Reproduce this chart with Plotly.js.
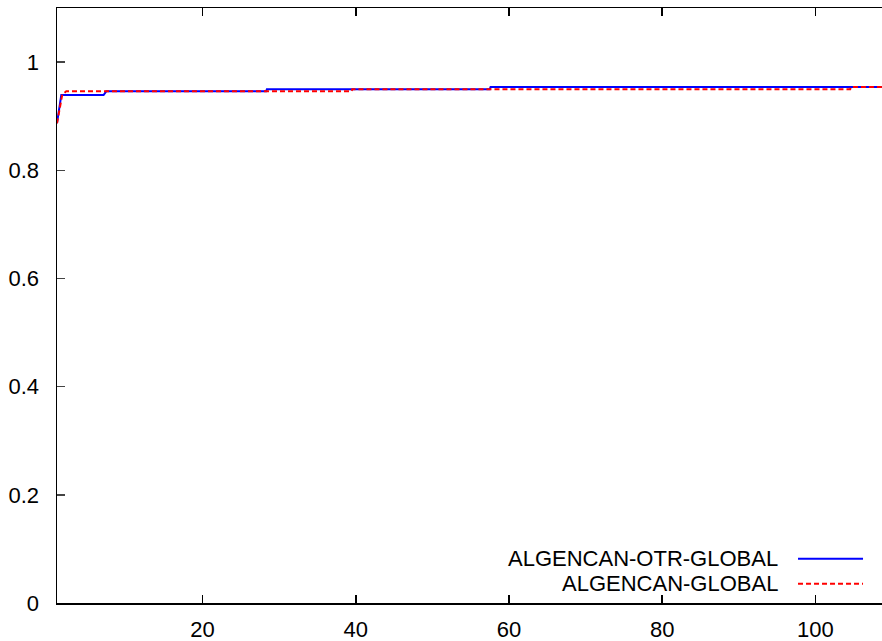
<!DOCTYPE html>
<html>
<head>
<meta charset="utf-8">
<script src="https://cdn.plot.ly/plotly-3.0.1.min.js"></script>
<style>html,body{margin:0;padding:0;background:#fff;}#chart{width:882px;height:641px;}</style>
</head>
<body>
<div id="chart"></div>
<script>
// Performance profile data (tau, fraction of problems)
const otrName = "ALGENCAN-OTR-GLOBAL";
const otrTau = [1, 1.56, 7.08, 7.43, 28.3, 28.4, 57.5, 57.6, 112];
const otrRho = [0.887, 0.939, 0.939, 0.946, 0.946, 0.950, 0.950, 0.954, 0.954];

const globName = "ALGENCAN-GLOBAL";
const globTau = [1, 1.69, 2.21, 39.45, 39.55, 104.55, 104.65, 112];
const globRho = [0.887, 0.940, 0.946, 0.946, 0.950, 0.950, 0.954, 0.954];

const xTicks = [20, 40, 60, 80, 100];
const yTicks = [0, 0.2, 0.4, 0.6, 0.8, 1];
const yTickText = ["0", "0.2", "0.4", "0.6", "0.8", "1"];

const FONT = "Liberation Sans, Arial, sans-serif";

const traces = [
  {x: otrTau, y: otrRho, name: otrName, mode: "lines",
   line: {color: "#0000ff", width: 2}},
  {x: globTau, y: globRho, name: globName, mode: "lines",
   line: {color: "#ff0000", width: 2, dash: "5px,3px"}}
];

// legend drawn gnuplot-style: right-aligned text, sample line to the right
const legendRows = [
  {name: otrName, color: "#0000ff", dash: "solid", y: 0.0745},
  {name: globName, color: "#ff0000", dash: "5px,3px", y: 0.0324}
];

const layout = {
  width: 882, height: 641,
  margin: {l: 57, r: 0, t: 8, b: 38},
  paper_bgcolor: "#fff", plot_bgcolor: "#fff",
  showlegend: false,
  font: {family: FONT, size: 22, color: "#000"},
  xaxis: {
    range: [1, 108.7], tickvals: xTicks, ticks: "inside", ticklen: 8,
    tickcolor: "#000", tickwidth: 1.5, showline: true, linecolor: "#000", linewidth: 1.5,
    mirror: "allticks", showgrid: false, zeroline: false, ticklabelstandoff: 6,
    tickfont: {family: FONT, size: 22, color: "#000"}
  },
  yaxis: {
    range: [0, 1.1], tickvals: yTicks, ticktext: yTickText, ticks: "inside", ticklen: 8,
    tickcolor: "#444", tickwidth: 1.5, showline: true, linecolor: "#000", linewidth: 1.5,
    mirror: false, showgrid: false, zeroline: false, ticklabelstandoff: 12,
    tickfont: {family: FONT, size: 22, color: "#000"}
  },
  annotations: legendRows.map(r => ({
    xref: "paper", yref: "paper", x: 0.8764, y: r.y, xanchor: "right", yanchor: "middle",
    text: r.name, showarrow: false, font: {family: FONT, size: 22, color: "#000"}
  })),
  shapes: legendRows.map(r => ({
    type: "line", xref: "paper", yref: "paper", x0: 0.8982, x1: 0.9770, y0: r.y, y1: r.y,
    line: {color: r.color, width: 2, dash: r.dash}
  }))
};

Plotly.newPlot("chart", traces, layout, {displayModeBar: false, staticPlot: true});
</script>
</body>
</html>
